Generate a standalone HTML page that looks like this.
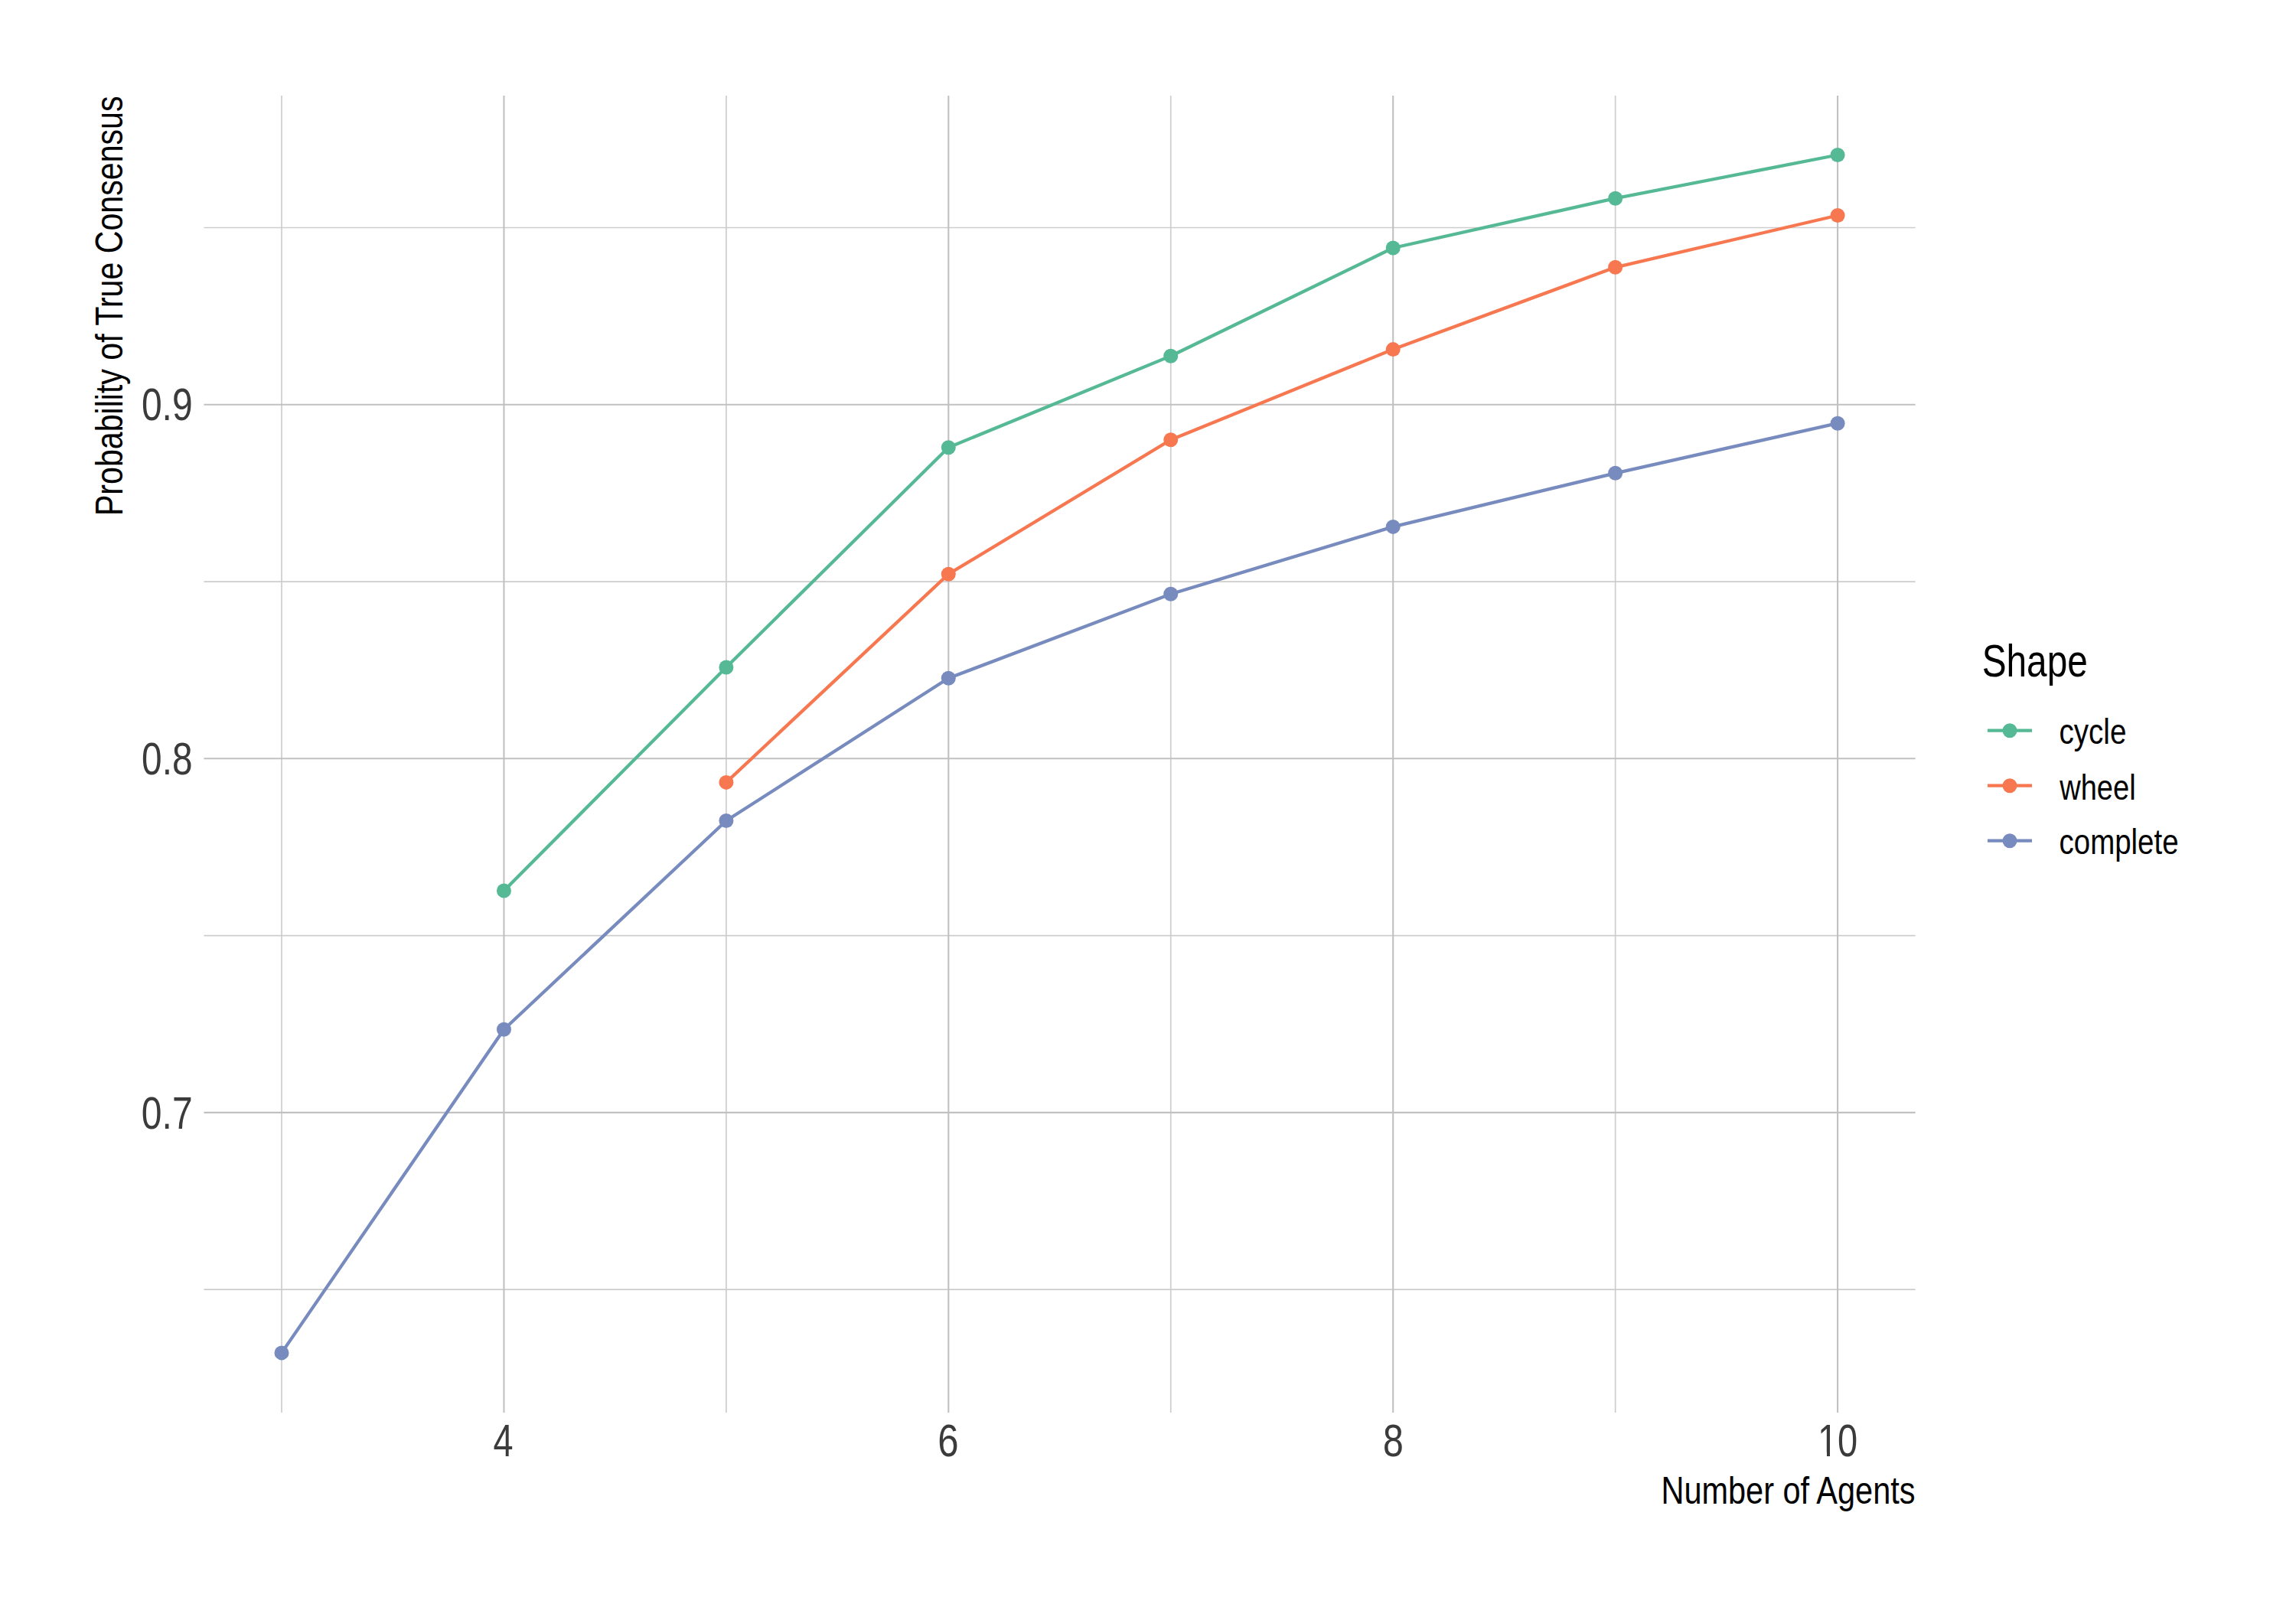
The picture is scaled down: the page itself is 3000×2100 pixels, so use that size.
<!DOCTYPE html><html><head><meta charset="utf-8"><title>Probability of True Consensus</title><style>html,body{margin:0;padding:0;background:#fff;overflow:hidden;}svg{display:block;}text{font-family:"Liberation Sans", Arial, sans-serif;}</style></head><body>
<svg width="3000" height="2100" viewBox="0 0 3000 2100">
<rect width="3000" height="2100" fill="#ffffff"/>
<g fill="none" stroke="#cdcdcd" stroke-width="1.7">
<line x1="266.4" y1="1685.12" x2="2502.7" y2="1685.12"/>
<line x1="266.4" y1="1222.58" x2="2502.7" y2="1222.58"/>
<line x1="266.4" y1="760.04" x2="2502.7" y2="760.04"/>
<line x1="266.4" y1="297.50" x2="2502.7" y2="297.50"/>
<line x1="368.00" y1="125" x2="368.00" y2="1846"/>
<line x1="948.90" y1="125" x2="948.90" y2="1846"/>
<line x1="1529.75" y1="125" x2="1529.75" y2="1846"/>
<line x1="2110.65" y1="125" x2="2110.65" y2="1846"/>
</g>
<g fill="none" stroke="#c1c1c1" stroke-width="2.1">
<line x1="266.4" y1="1453.85" x2="2502.7" y2="1453.85"/>
<line x1="266.4" y1="991.31" x2="2502.7" y2="991.31"/>
<line x1="266.4" y1="528.77" x2="2502.7" y2="528.77"/>
<line x1="658.45" y1="125" x2="658.45" y2="1846"/>
<line x1="1239.30" y1="125" x2="1239.30" y2="1846"/>
<line x1="1820.20" y1="125" x2="1820.20" y2="1846"/>
<line x1="2401.10" y1="125" x2="2401.10" y2="1846"/>
</g>
<polyline points="658.45,1164.00 948.90,872.00 1239.30,584.75 1529.75,465.25 1820.20,324.00 2110.65,259.20 2401.10,202.50" fill="none" stroke="#56b995" stroke-width="4.3" stroke-linejoin="round" stroke-linecap="butt"/>
<polyline points="948.90,1022.40 1239.30,750.20 1529.75,574.70 1820.20,456.60 2110.65,349.30 2401.10,281.50" fill="none" stroke="#f77850" stroke-width="4.3" stroke-linejoin="round" stroke-linecap="butt"/>
<polyline points="368.00,1767.90 658.45,1345.20 948.90,1072.50 1239.30,886.30 1529.75,776.30 1820.20,688.40 2110.65,618.30 2401.10,553.20" fill="none" stroke="#788bbe" stroke-width="4.3" stroke-linejoin="round" stroke-linecap="butt"/>
<circle cx="658.45" cy="1164.00" r="9.5" fill="#56b995"/>
<circle cx="948.90" cy="872.00" r="9.5" fill="#56b995"/>
<circle cx="1239.30" cy="584.75" r="9.5" fill="#56b995"/>
<circle cx="1529.75" cy="465.25" r="9.5" fill="#56b995"/>
<circle cx="1820.20" cy="324.00" r="9.5" fill="#56b995"/>
<circle cx="2110.65" cy="259.20" r="9.5" fill="#56b995"/>
<circle cx="2401.10" cy="202.50" r="9.5" fill="#56b995"/>
<circle cx="948.90" cy="1022.40" r="9.5" fill="#f77850"/>
<circle cx="1239.30" cy="750.20" r="9.5" fill="#f77850"/>
<circle cx="1529.75" cy="574.70" r="9.5" fill="#f77850"/>
<circle cx="1820.20" cy="456.60" r="9.5" fill="#f77850"/>
<circle cx="2110.65" cy="349.30" r="9.5" fill="#f77850"/>
<circle cx="2401.10" cy="281.50" r="9.5" fill="#f77850"/>
<circle cx="368.00" cy="1767.90" r="9.5" fill="#788bbe"/>
<circle cx="658.45" cy="1345.20" r="9.5" fill="#788bbe"/>
<circle cx="948.90" cy="1072.50" r="9.5" fill="#788bbe"/>
<circle cx="1239.30" cy="886.30" r="9.5" fill="#788bbe"/>
<circle cx="1529.75" cy="776.30" r="9.5" fill="#788bbe"/>
<circle cx="1820.20" cy="688.40" r="9.5" fill="#788bbe"/>
<circle cx="2110.65" cy="618.30" r="9.5" fill="#788bbe"/>
<circle cx="2401.10" cy="553.20" r="9.5" fill="#788bbe"/>
<line x1="2597" y1="954.70" x2="2655" y2="954.70" stroke="#56b995" stroke-width="4.3"/>
<circle cx="2626" cy="954.70" r="9.5" fill="#56b995"/>
<line x1="2597" y1="1026.70" x2="2655" y2="1026.70" stroke="#f77850" stroke-width="4.3"/>
<circle cx="2626" cy="1026.70" r="9.5" fill="#f77850"/>
<line x1="2597" y1="1098.70" x2="2655" y2="1098.70" stroke="#788bbe" stroke-width="4.3"/>
<circle cx="2626" cy="1098.70" r="9.5" fill="#788bbe"/>
<text transform="translate(251.62,549.41) scale(0.8001,1)" text-anchor="end" font-size="60" fill="#3b3b3b">0.9</text>
<text transform="translate(251.49,1012.41) scale(0.7962,1)" text-anchor="end" font-size="60" fill="#3b3b3b">0.8</text>
<text transform="translate(251.64,1474.90) scale(0.8007,1)" text-anchor="end" font-size="60" fill="#3b3b3b">0.7</text>
<text transform="translate(657.54,1902.50) scale(0.7806,1)" text-anchor="middle" font-size="60" fill="#3b3b3b">4</text>
<text transform="translate(1238.90,1902.68) scale(0.8176,1)" text-anchor="middle" font-size="60" fill="#3b3b3b">6</text>
<text transform="translate(1820.31,1902.68) scale(0.8034,1)" text-anchor="middle" font-size="60" fill="#3b3b3b">8</text>
<text transform="translate(2401.10,1903.12) scale(0.7837,1)" text-anchor="middle" font-size="60" fill="#3b3b3b">10</text>
<text transform="translate(2502.53,1965.28) scale(0.8298,1)" text-anchor="end" font-size="50" fill="#000000">Number of Agents</text>
<text transform="translate(160.48,125.48) rotate(-90) scale(0.8228,1)" text-anchor="end" font-size="50" fill="#000000">Probability of True Consensus</text>
<text transform="translate(2589.70,883.60) scale(0.8189,1)" font-size="58.33" fill="#000000">Shape</text>
<text transform="translate(2690.39,972.20) scale(0.8400,1)" font-size="46" fill="#000000">cycle</text>
<text transform="translate(2691.14,1044.50) scale(0.8276,1)" font-size="46" fill="#000000">wheel</text>
<text transform="translate(2690.57,1115.90) scale(0.8361,1)" font-size="46" fill="#000000">complete</text>
<path d="M2377 1897.6H2387V1903.6H2377ZM2391 1897.6H2399.6V1903.6H2391Z" fill="#ffffff"/>
</svg></body></html>
